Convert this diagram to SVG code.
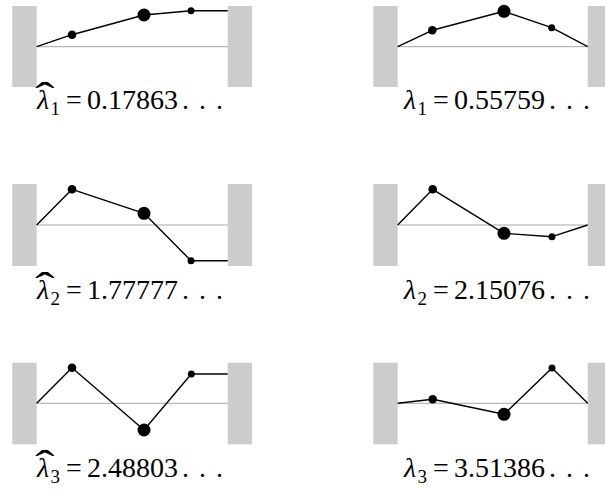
<svg xmlns="http://www.w3.org/2000/svg" width="605" height="492" viewBox="0 0 605 492">
<style>
.wall{fill:#cccccc}
.base{stroke:#a6a6a6;stroke-width:1;fill:none}
.mode{stroke:#000;stroke-width:1.4;fill:none;stroke-linejoin:round}
.d{fill:#000}
.lbl{font-family:"Liberation Serif","DejaVu Serif",serif;font-size:28px;fill:#000}
.sub{font-size:19px}
.hat{font-family:"Liberation Serif","DejaVu Serif",serif;font-size:40px;fill:#000;text-anchor:middle}
</style>
<rect width="605" height="492" fill="#fff"/>

<g id="panel-hat-1">
<rect class="wall" x="12.3" y="6" width="24.4" height="81"/>
<rect class="wall" x="227.7" y="6" width="24.4" height="81"/>
<line class="base" x1="36.7" y1="46.7" x2="227.7" y2="46.7"/>
<polyline class="mode" points="36.7,46.7 72,34.7 144,15 191,10.7 227.7,10.7"/>
<circle class="d" cx="72" cy="34.7" r="4.3"/>
<circle class="d" cx="144" cy="15" r="6.5"/>
<circle class="d" cx="191" cy="10.7" r="3.5"/>
<text class="hat" transform="translate(45,110) scale(1.45,1)">ˆ</text>
<text class="lbl"><tspan font-style="italic" x="37" y="109">λ</tspan><tspan class="sub" x="50.5" y="115">1</tspan><tspan x="66" y="109">=</tspan><tspan x="87" y="109">0.17863</tspan><tspan x="182" y="109" letter-spacing="1.5">. . .</tspan></text>
</g>

<g id="panel-1">
<rect class="wall" x="373.3" y="6" width="24.4" height="81"/>
<rect class="wall" x="587.7" y="6" width="24.4" height="81"/>
<line class="base" x1="397.7" y1="46.7" x2="587.7" y2="46.7"/>
<polyline class="mode" points="397.7,46.7 432.3,30.3 504,11.3 551.7,27.7 587.7,46.7"/>
<circle class="d" cx="432.3" cy="30.3" r="4.3"/>
<circle class="d" cx="504" cy="11.3" r="6.5"/>
<circle class="d" cx="551.7" cy="27.7" r="3.5"/>
<text class="lbl"><tspan font-style="italic" x="404" y="109">λ</tspan><tspan class="sub" x="417.5" y="115">1</tspan><tspan x="433" y="109">=</tspan><tspan x="454" y="109">0.55759</tspan><tspan x="549" y="109" letter-spacing="1.5">. . .</tspan></text>
</g>

<g id="panel-hat-2">
<rect class="wall" x="12.3" y="184" width="24.4" height="82"/>
<rect class="wall" x="227.7" y="184" width="24.4" height="82"/>
<line class="base" x1="36.7" y1="225" x2="227.7" y2="225"/>
<polyline class="mode" points="36.7,225 72,189.3 144,213.3 191,260.7 227.7,260.7"/>
<circle class="d" cx="72" cy="189.3" r="4.3"/>
<circle class="d" cx="144" cy="213.3" r="6.5"/>
<circle class="d" cx="191" cy="260.7" r="3.5"/>
<text class="hat" transform="translate(45,300) scale(1.45,1)">ˆ</text>
<text class="lbl"><tspan font-style="italic" x="37" y="299">λ</tspan><tspan class="sub" x="50.5" y="305">2</tspan><tspan x="66" y="299">=</tspan><tspan x="87" y="299">1.77777</tspan><tspan x="182" y="299" letter-spacing="1.5">. . .</tspan></text>
</g>

<g id="panel-2">
<rect class="wall" x="373.3" y="184" width="24.4" height="82"/>
<rect class="wall" x="587.7" y="184" width="24.4" height="82"/>
<line class="base" x1="397.7" y1="225" x2="587.7" y2="225"/>
<polyline class="mode" points="397.7,225 432.7,189.3 504,233.3 552,236.7 587.7,225"/>
<circle class="d" cx="432.7" cy="189.3" r="4.3"/>
<circle class="d" cx="504" cy="233.3" r="6.5"/>
<circle class="d" cx="552" cy="236.7" r="3.5"/>
<text class="lbl"><tspan font-style="italic" x="404" y="299">λ</tspan><tspan class="sub" x="417.5" y="305">2</tspan><tspan x="433" y="299">=</tspan><tspan x="454" y="299">2.15076</tspan><tspan x="549" y="299" letter-spacing="1.5">. . .</tspan></text>
</g>

<g id="panel-hat-3">
<rect class="wall" x="12.3" y="362.7" width="24.4" height="81.6"/>
<rect class="wall" x="227.7" y="362.7" width="24.4" height="81.6"/>
<line class="base" x1="36.7" y1="403.3" x2="227.7" y2="403.3"/>
<polyline class="mode" points="36.7,403.3 72,367.7 144,430 191.3,374 227.7,374"/>
<circle class="d" cx="72" cy="367.7" r="4.3"/>
<circle class="d" cx="144" cy="430" r="6.5"/>
<circle class="d" cx="191.3" cy="374" r="3.5"/>
<text class="hat" transform="translate(45,478) scale(1.45,1)">ˆ</text>
<text class="lbl"><tspan font-style="italic" x="37" y="477">λ</tspan><tspan class="sub" x="50.5" y="483">3</tspan><tspan x="66" y="477">=</tspan><tspan x="87" y="477">2.48803</tspan><tspan x="182" y="477" letter-spacing="1.5">. . .</tspan></text>
</g>

<g id="panel-3">
<rect class="wall" x="373.3" y="362.7" width="24.4" height="81.6"/>
<rect class="wall" x="587.7" y="362.7" width="24.4" height="81.6"/>
<line class="base" x1="397.7" y1="403.3" x2="587.7" y2="403.3"/>
<polyline class="mode" points="397.7,403.3 432.7,399.3 504,414.3 552,368 587.7,403.3"/>
<circle class="d" cx="432.7" cy="399.3" r="4.3"/>
<circle class="d" cx="504" cy="414.3" r="6.5"/>
<circle class="d" cx="552" cy="368" r="3.5"/>
<text class="lbl"><tspan font-style="italic" x="404" y="477">λ</tspan><tspan class="sub" x="417.5" y="483">3</tspan><tspan x="433" y="477">=</tspan><tspan x="454" y="477">3.51386</tspan><tspan x="549" y="477" letter-spacing="1.5">. . .</tspan></text>
</g>
</svg>
